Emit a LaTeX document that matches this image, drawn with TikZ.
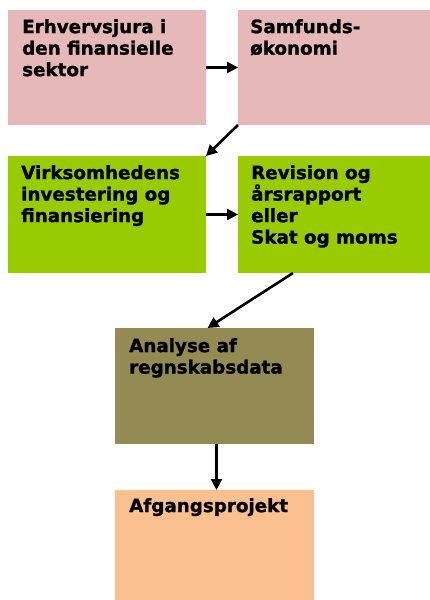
\documentclass[tikz,border=0pt]{standalone}
\usepackage{fontspec}
\setmainfont{DejaVu Sans}[BoldFeatures={FakeBold=1.3}]
\usetikzlibrary{arrows.meta}
\definecolor{pinkc}{RGB}{230,184,183}
\definecolor{greenc}{RGB}{153,204,0}
\definecolor{olivec}{RGB}{148,138,84}
\definecolor{peachc}{RGB}{250,192,144}
\begin{document}
\begin{tikzpicture}[x=1pt,y=-1pt,
  box/.style={rectangle,draw=none,inner sep=0,outer sep=0},
  txt/.style={anchor=north west,inner sep=0,align=left,
    font=\fontsize{18.3}{21.5}\selectfont\bfseries},
  arr/.style={line width=2.6pt,-{Triangle[length=11pt,width=11pt]}}]
\useasboundingbox[fill=white] (0,0) rectangle (430,600);
\path[box,fill=pinkc]  (8,10)   rectangle (206,125);
\path[box,fill=pinkc]  (238,10) rectangle (430,125);
\path[box,fill=greenc] (8,156)  rectangle (206,273);
\path[box,fill=greenc] (238,156) rectangle (430,273);
\path[box,fill=olivec] (115,328) rectangle (314,444);
\path[box,fill=peachc] (115,490) rectangle (314,600);
\node[box,minimum width=198pt,minimum height=115pt] (b1) at (107,67.5) {};
\node[box,minimum width=192pt,minimum height=115pt] (b2) at (334,67.5) {};
\node[box,minimum width=198pt,minimum height=117pt] (b3) at (107,214.5) {};
\node[box,minimum width=192pt,minimum height=117pt] (b4) at (334,214.5) {};
\node[box,minimum width=199pt,minimum height=116pt] (b5) at (214.5,386) {};
\node[box,minimum width=199pt,minimum height=110pt] (b6) at (214.5,545) {};
\node[txt] (t1) at (22,19) {Erhvervsjura i\\den finansielle\\sektor};
\node[txt] (t2) at (250,19) {Samfunds-\\økonomi};
\node[txt] (t3) at (21,165) {Virksomhedens\\investering og\\finansiering};
\node[txt] (t4) at (251,165) {Revision og\\årsrapport\\eller\\Skat og moms};
\node[txt] (t5) at (129,338) {Analyse af\\regnskabsdata};
\node[txt] (t6) at (129,498) {Afgangsprojekt};
\draw[arr] (b1.east) -- (b2.west);
\draw[arr] (b2.south west) -- (b3.north east);
\draw[arr] (b3.east) -- (b4.west);
\draw[arr] ([xshift=-41pt]b4.south) -- ([xshift=-7pt]b5.north);
\draw[arr] ([xshift=2pt]b5.south) -- ([xshift=2pt]b6.north);
\end{tikzpicture}
\end{document}
